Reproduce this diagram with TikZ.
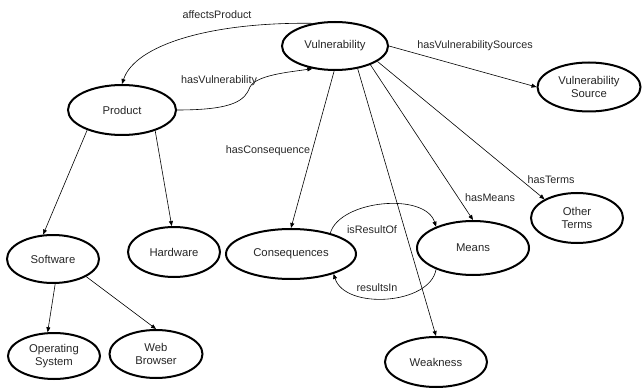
\documentclass[tikz,border=0pt]{standalone}
\usepackage{fontspec}
\setmainfont{Liberation Sans}
\usetikzlibrary{shapes.geometric,arrows.meta}
\begin{document}
\begin{tikzpicture}[x=1pt,y=-1pt,
  ent/.style={ellipse,draw,line width=2pt,inner sep=0pt,align=center,
    font=\fontsize{11.3}{13.5}\selectfont,text=black!85},
  rel/.style={line width=0.6pt,-{Triangle[length=5pt,width=4pt]}},
  lbl/.style={font=\fontsize{10.8}{12}\selectfont,inner sep=1pt,text=black!85}]
\useasboundingbox (0,0) rectangle (642,390);
\node[ent,minimum width=106pt,minimum height=48pt] (vul) at (335,46) {Vulnerability};
\node[ent,minimum width=108pt,minimum height=50pt] (prod) at (122,110) {Product};
\node[ent,minimum width=103pt,minimum height=49pt] (vs) at (589,87) {Vulnerability\\Source};
\node[ent,minimum width=92pt,minimum height=48pt] (sw) at (53,259) {Software};
\node[ent,minimum width=92pt,minimum height=50pt] (hw) at (174,252) {Hardware};
\node[ent,minimum width=130pt,minimum height=50pt] (cons) at (291,254) {Consequences};
\node[ent,minimum width=112pt,minimum height=54pt] (means) at (473,248) {Means};
\node[ent,minimum width=92pt,minimum height=50pt] (ot) at (577,218) {Other\\Terms};
\node[ent,minimum width=102pt,minimum height=50pt] (weak) at (436,362) {Weakness};
\node[ent,minimum width=92pt,minimum height=46pt] (os) at (54,356) {Operating\\System};
\node[ent,minimum width=93pt,minimum height=48pt] (wb) at (156,354) {Web\\Browser};

\draw[rel] (vul.135) .. controls (210,22) and (135,45) .. (prod.north);
\draw[rel] (prod.east) .. controls (235,110) and (245,100) .. (250,87)
  .. controls (256,75) and (290,72) .. (vul.225);
\draw[rel] (vul.east) -- (vs.west);
\draw[rel] (vul.-92) -- (cons.north);
\draw[rel] (vul.-45) -- (weak.north);
\draw[rel] (vul.-28) -- (means.north);
\draw[rel] (vul.-20) -- (ot.150);
\draw[rel] (prod.-150) -- (sw.112);
\draw[rel] (prod.-32) -- (hw.95);
\draw[rel] (sw.-85) -- (os.105);
\draw[rel] (sw.-28) -- (wb.north);
\draw[rel] (cons.28) .. controls (340,200) and (425,192) .. (means.150);
\draw[rel] (means.-150) .. controls (430,305) and (345,310) .. (cons.-25);

\node[lbl] (l1) at (217,15) {affectsProduct};
\node[lbl] (l2) at (219,81) {hasVulnerability};
\node[lbl] (l3) at (475,46) {hasVulnerabilitySources};
\node[lbl] (l4) at (268,151) {hasConsequence};
\node[lbl] (l5) at (490,198) {hasMeans};
\node[lbl] (l6) at (551,180) {hasTerms};
\node[lbl] (l7) at (372,230) {isResultOf};
\node[lbl] (l8) at (377,288) {resultsIn};
\end{tikzpicture}
\end{document}
